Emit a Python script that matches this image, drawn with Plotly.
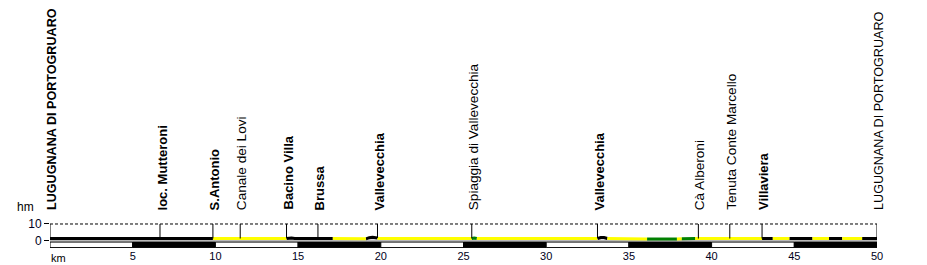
import numpy as np
import plotly.graph_objects as go

# ---- data ----
PROFILE_KM = [0, 9.85, 11.2, 11.35, 11.5, 14.3, 14.6, 14.8, 17.1, 18.7, 19.1, 19.3, 19.5, 19.7, 19.9,
              25.5, 25.65, 25.8, 33.1, 33.3, 33.5, 33.7, 36.1, 37.9, 38.5, 38.8, 39.0, 50]
PROFILE_HM = [1.2, 1.2, 1.2, 0.8, 1.2, 1.2, 1.5, 1.2, 1.2, 1.2, 1.0, 1.7, 1.9, 1.7, 1.2,
              1.2, 1.5, 1.2, 1.2, 1.8, 1.8, 1.2, 0.9, 0.9, 1.2, 1.5, 1.2, 1.2]

SURF_FROM = [0, 9.85, 14.3, 17.1, 19.1, 19.8, 25.5, 25.8, 33.1, 33.7, 36.1, 37.9, 38.2, 39.0,
             43.05, 43.7, 44.7, 46.1, 47.1, 47.9, 49.1]
SURF_TO = SURF_FROM[1:] + [50]
SURF_TYPE = ["road", "cycle", "road", "cycle", "road", "cycle", "gravel", "cycle", "road", "cycle",
             "gravel", "cycle", "gravel", "cycle", "road", "cycle", "road", "cycle", "road", "cycle", "road"]

PLACE_KM = [0, 6.65, 9.85, 11.5, 14.3, 16.2, 19.8, 25.5, 33.1, 39.2, 41.1, 43.05, 50]
PLACE_NAME = ["LUGUGNANA DI PORTOGRUARO", "loc. Mutteroni", "S.Antonio", "Canale dei Lovi",
              "Bacino Villa", "Brussa", "Vallevecchia", "Spiaggia di Vallevecchia", "Vallevecchia",
              "Cà Alberoni", "Tenuta Conte Marcello", "Villaviera", "LUGUGNANA DI PORTOGRUARO"]
PLACE_BOLD = [True, True, True, False, True, True, True, False, True, False, False, True, False]

KM_TICKS = [5, 10, 15, 20, 25, 30, 35, 40, 45, 50]
KM_LABELS = ["5", "10", "15", "20", "25", "30", "35", "40", "45", "50"]
HM_TICKS = [0, 10]

# ---- styles ----
SURF_COLOR = {"road": "#000000", "cycle": "#ffff00", "gravel": "#008000"}
FONT = "Liberation Sans, Arial, sans-serif"
X_RANGE = [0, 50]
Y_RANGE = [-4.55, 145.75]
LABEL_Y = 17.9
BAR_Y = (-4.3, -0.95)


def label_size(name, bold):
    if name.isupper():
        return 12.6
    return 13 if bold else 13.6


fig = go.Figure()

# gray base line
fig.add_trace(go.Scatter(x=[X_RANGE[0], X_RANGE[1]], y=[0, 0], mode="lines",
                         line=dict(color="#b8b8b8", width=2), hoverinfo="skip", showlegend=False))

# coloured profile by surface
for stype, col in SURF_COLOR.items():
    xs, ys = [], []
    for a, b, t in zip(SURF_FROM, SURF_TO, SURF_TYPE):
        if t != stype:
            continue
        seg = [a] + [k for k in PROFILE_KM if a < k < b] + [b]
        xs += seg + [None]
        ys += list(np.interp(seg, PROFILE_KM, PROFILE_HM)) + [None]
    fig.add_trace(go.Scatter(x=xs, y=ys, mode="lines", line=dict(color=col, width=3),
                             hoverinfo="skip", showlegend=False, connectgaps=False))

# place marker lines
vx, vy = [], []
for k in PLACE_KM:
    vx += [k, k, None]
    vy += [float(np.interp(k, PROFILE_KM, PROFILE_HM)), 10, None]
fig.add_trace(go.Scatter(x=vx, y=vy, mode="lines", line=dict(color="#000000", width=1),
                         hoverinfo="skip", showlegend=False))

shapes = []
# dashed 10 hm line
shapes.append(dict(type="line", xref="x", yref="y", x0=X_RANGE[0], x1=X_RANGE[1], y0=10, y1=10,
                   line=dict(color="#000000", width=1, dash="3px,2px")))
# km bar
edges = [X_RANGE[0]] + KM_TICKS
for i in range(len(edges) - 1):
    shapes.append(dict(type="rect", xref="x", yref="y", x0=edges[i], x1=edges[i + 1],
                       y0=BAR_Y[0], y1=BAR_Y[1],
                       fillcolor="#ffffff" if i % 2 == 0 else "#000000",
                       line=dict(color="#000000", width=1)))

annotations = []
for k, name, bold in zip(PLACE_KM, PLACE_NAME, PLACE_BOLD):
    annotations.append(dict(x=k, y=LABEL_Y, xref="x", yref="y", text=f"<b>{name}</b>" if bold else name,
                            textangle=-90, showarrow=False, xanchor="center", yanchor="bottom",
                            xshift=2, font=dict(family=FONT, size=label_size(name, bold), color="#000000"),
                            borderpad=0))
annotations.append(dict(x=X_RANGE[0], y=20, xref="x", yref="y", text="hm", showarrow=False,
                        xanchor="right", yanchor="middle", xshift=-14,
                        font=dict(family=FONT, size=12, color="#000000")))
annotations.append(dict(x=X_RANGE[0], y=0, xref="x", yref="paper", text="km", showarrow=False,
                        xanchor="left", yanchor="top", xshift=-1, yshift=-2,
                        font=dict(family=FONT, size=11, color="#000000")))

fig.update_layout(
    width=927, height=265,
    margin=dict(l=50, r=50, t=0, b=17),
    paper_bgcolor="#ffffff", plot_bgcolor="#ffffff",
    shapes=shapes, annotations=annotations,
    xaxis=dict(range=X_RANGE, tickvals=KM_TICKS, ticktext=KM_LABELS, showgrid=False, zeroline=False,
               showline=False, ticks="", tickfont=dict(family=FONT, size=11, color="#000020")),
    yaxis=dict(range=Y_RANGE, tickvals=HM_TICKS, showgrid=False, zeroline=False, showline=False,
               ticks="outside", ticklen=5, tickcolor="#000000",
               tickfont=dict(family=FONT, size=12, color="#000020")),
)

fig.write_html("out.html")
